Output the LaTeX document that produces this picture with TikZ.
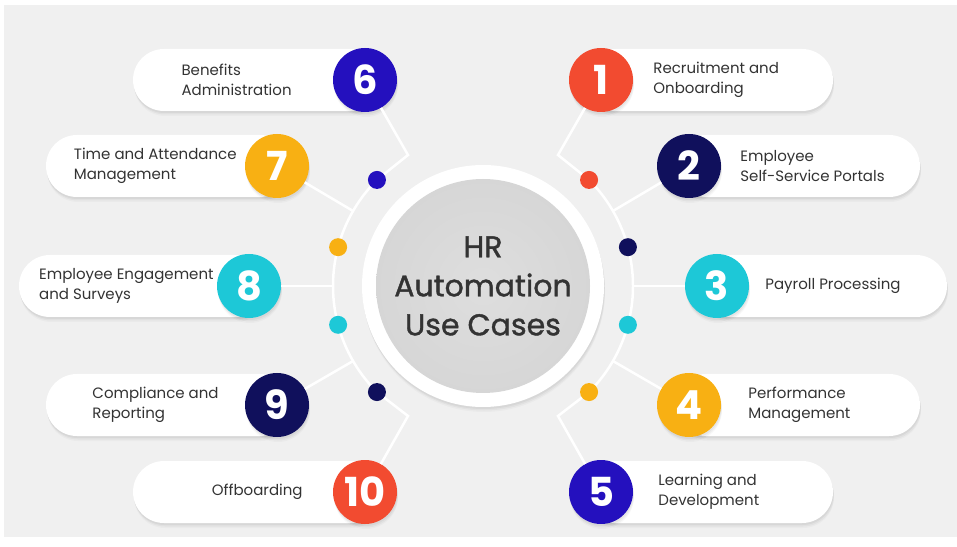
\documentclass[tikz,border=0pt]{standalone}
\usepackage{fontspec}
\setmainfont{Poppins}
\newfontfamily\hubfont{Poppins}[FakeBold=1.2]
\usetikzlibrary{positioning}

\definecolor{hrred}{HTML}{F24B30}
\definecolor{hrnavy}{HTML}{10105C}
\definecolor{hrblue}{HTML}{2410BE}
\definecolor{hrgold}{HTML}{F8B013}
\definecolor{hrcyan}{HTML}{1DC8D7}
\definecolor{hrback}{HTML}{F0F0F0}
\definecolor{hrtext}{HTML}{333333}

\tikzset{
  soft/.style={
    preaction={fill=black, opacity=.025, transform canvas={xshift=1pt, yshift=-5pt}},
    preaction={fill=black, opacity=.035, transform canvas={xshift=1pt, yshift=-3.5pt}},
    preaction={fill=black, opacity=.045, transform canvas={xshift=.5pt, yshift=-2pt}}},
  pill/.style={rectangle, rounded corners=31pt, fill=white, minimum height=62pt, inner sep=0pt, soft},
  badge/.style={circle, fill=#1, minimum size=64pt, inner sep=0pt, text=white,
    font=\bfseries\fontsize{40}{40}\selectfont, soft},
  knob/.style={circle, fill=#1, minimum size=18pt, inner sep=0pt},
  wire/.style={white, line width=2.5pt},
  usecase/.style={inner sep=0pt, align=left, text=hrtext, font=\fontsize{15}{20}\selectfont},
}

\begin{document}
\begin{tikzpicture}[x=1pt,y=1pt]
\useasboundingbox (0,0) rectangle (957,546);
\fill[white] (0,0) rectangle (957,546);
\fill[hrback] (4,9) rectangle (957,541);
\coordinate (C) at (483,260);

\node[pill, minimum width=248pt] (p1) at (709,466) {};
\node[pill, minimum width=245pt] (p2) at (797.5,380) {};
\node[pill, minimum width=247pt] (p3) at (823.5,260) {};
\node[pill, minimum width=245pt] (p4) at (797.5,141) {};
\node[pill, minimum width=248pt] (p5) at (709,54) {};
\node[pill, minimum width=248pt] (p6) at (257,466) {};
\node[pill, minimum width=245pt] (p7) at (168.5,380) {};
\node[pill, minimum width=247pt] (p8) at (142.5,260) {};
\node[pill, minimum width=245pt] (p9) at (168.5,141) {};
\node[pill, minimum width=248pt] (p10) at (257,54) {};

% hub in the middle
\node[circle, fill=white, minimum size=242pt, soft] (ring) at (C) {};
\node[circle, minimum size=214pt, shade, inner color=black!13, outer color=black!16,
  align=center, text=hrtext, font=\hubfont\fontsize{30}{39}\selectfont] (hub) at (C) {HR\\Automation\\Use Cases};

% rails on both sides
\draw[wire] ([shift={(45:150)}]C) arc[start angle=45, end angle=-45, radius=150];
\draw[wire] ([shift={(135:150)}]C) arc[start angle=135, end angle=225, radius=150];

\foreach \a/\c/\n in {45/hrred/d1, 15/hrnavy/d2, -15/hrcyan/d3, -45/hrgold/d4,
  135/hrblue/d6, 165/hrgold/d7, 195/hrcyan/d8, 225/hrnavy/d9}
  \node[knob=\c] (\n) at ([shift={(\a:150)}]C) {};

\foreach \a/\n in {30/j2, 0/j3, -30/j4, 150/j7, 180/j8, 210/j9}
  \coordinate (\n) at ([shift={(\a:150)}]C);
\coordinate (e1) at (558,391);
\coordinate (e5) at (558,130);
\coordinate (e6) at (408,391);
\coordinate (e10) at (408,130);

% numbered badges
\node[badge=hrred] (b1) at (601,466) {1};
\node[badge=hrnavy] (b2) at (689,380) {2};
\node[badge=hrcyan] (b3) at (717,260) {3};
\node[badge=hrgold] (b4) at (689,141) {4};
\node[badge=hrblue] (b5) at (601,54) {5};
\node[badge=hrblue] (b6) at (365,466) {6};
\node[badge=hrgold] (b7) at (277,380) {7};
\node[badge=hrcyan] (b8) at (249,260) {8};
\node[badge=hrnavy] (b9) at (277,141) {9};
\node[badge=hrred] (b10) at (365,54) {10};

\draw[wire] (b1) -- (e1) -- (d1);
\draw[wire] (b2) -- (j2);
\draw[wire] (b3) -- (j3);
\draw[wire] (b4) -- (j4);
\draw[wire] (b5) -- (e5) -- (d4);
\draw[wire] (b6) -- (e6) -- (d6);
\draw[wire] (b7) -- (j7);
\draw[wire] (b8) -- (j8);
\draw[wire] (b9) -- (j9);
\draw[wire] (b10) -- (e10) -- (d9);

% use case texts
\node[usecase, right=20pt of b1] (t1) {Recruitment and\\Onboarding};
\node[usecase, right=19pt of b2] (t2) {Employee\\Self-Service Portals};
\node[usecase, right=16pt of b3] (t3) {Payroll Processing};
\node[usecase, right=27pt of b4] (t4) {Performance\\Management};
\node[usecase, right=25pt of b5] (t5) {Learning and\\Development};
\node[usecase, left=41pt of b6] (t6) {Benefits\\Administration};
\node[usecase, left=8pt of b7] (t7) {Time and Attendance\\Management};
\node[usecase, left=3pt of b8] (t8) {Employee Engagement\\and Surveys};
\node[usecase, left=26pt of b9] (t9) {Compliance and\\Reporting};
\node[usecase, left=30pt of b10] (t10) {Offboarding};
\end{tikzpicture}
\end{document}
